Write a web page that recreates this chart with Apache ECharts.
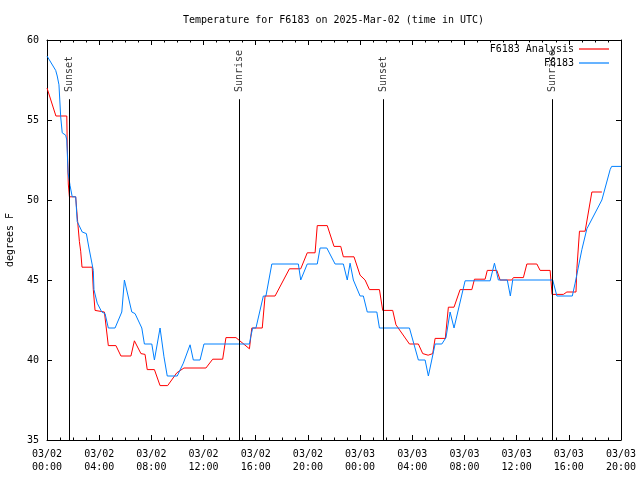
<!DOCTYPE html>
<html>
<head>
<meta charset="utf-8">
<script src="https://cdn.jsdelivr.net/npm/echarts@6/dist/echarts.min.js"></script>
<style>html,body{margin:0;padding:0;background:#fff;}#c{width:640px;height:480px;}</style>
</head>
<body>
<div id="c"></div>
<script>
const titleText = 'Temperature for F6183 on 2025-Mar-02 (time in UTC)';
const xTickLabels = ['03/02\n00:00','03/02\n04:00','03/02\n08:00','03/02\n12:00','03/02\n16:00','03/02\n20:00',
  '03/03\n00:00','03/03\n04:00','03/03\n08:00','03/03\n12:00','03/03\n16:00','03/03\n20:00'];

const analysisTimes = ['03/02 00:00','03/02 00:41','03/02 01:31','03/02 01:33','03/02 01:38','03/02 01:43','03/02 02:12','03/02 02:17','03/02 02:21','03/02 02:29','03/02 02:35','03/02 02:41','03/02 03:28','03/02 03:33','03/02 03:41','03/02 04:24','03/02 04:42','03/02 05:17','03/02 05:40','03/02 06:26','03/02 06:42','03/02 07:12','03/02 07:31','03/02 07:41','03/02 08:14','03/02 08:40','03/02 09:15','03/02 09:57','03/02 10:30','03/02 12:11','03/02 12:42','03/02 13:28','03/02 13:43','03/02 14:29','03/02 15:31','03/02 15:42','03/02 16:30','03/02 16:43','03/02 17:29','03/02 18:35','03/02 19:27','03/02 19:57','03/02 20:33','03/02 20:43','03/02 21:29','03/02 22:00','03/02 22:31','03/02 22:43','03/02 23:32','03/03 00:00','03/03 00:23','03/03 00:43','03/03 01:29','03/03 01:44','03/03 02:30','03/03 02:45','03/03 03:47','03/03 04:28','03/03 04:48','03/03 05:13','03/03 05:34','03/03 05:45','03/03 06:32','03/03 06:46','03/03 07:12','03/03 07:40','03/03 08:34','03/03 08:46','03/03 09:35','03/03 09:45','03/03 10:29','03/03 10:44','03/03 11:38','03/03 11:45','03/03 12:31','03/03 12:47','03/03 13:33','03/03 13:48','03/03 14:34','03/03 14:43','03/03 15:35','03/03 15:51','03/03 16:33','03/03 16:37','03/03 16:49','03/03 17:15','03/03 17:46','03/03 18:32'];
const analysisTemps = [57.0,55.25,55.25,53.5,51.0,50.2,50.2,49.3,48.65,47.4,46.8,45.8,45.8,44.4,43.1,43.0,40.9,40.9,40.25,40.25,41.2,40.4,40.35,39.4,39.4,38.4,38.4,39.2,39.5,39.5,40.05,40.05,41.4,41.4,40.7,42.0,42.0,44.0,44.0,45.7,45.7,46.7,46.7,48.4,48.4,47.1,47.1,46.45,46.45,45.3,45.0,44.4,44.4,43.1,43.1,42.2,41.0,41.0,40.4,40.3,40.4,41.35,41.35,43.3,43.3,44.4,44.4,45.05,45.05,45.6,45.6,45.0,45.0,45.15,45.15,46.0,46.0,45.6,45.6,44.1,44.1,44.25,44.25,45.7,48.05,48.05,50.5,50.5];

const obsTimes = ['03/02 00:00','03/02 00:40','03/02 00:47','03/02 00:55','03/02 01:03','03/02 01:10','03/02 01:26','03/02 01:31','03/02 01:37','03/02 01:46','03/02 01:56','03/02 02:12','03/02 02:19','03/02 02:42','03/02 03:01','03/02 03:13','03/02 03:33','03/02 03:36','03/02 03:51','03/02 04:12','03/02 04:27','03/02 04:42','03/02 05:13','03/02 05:44','03/02 05:56','03/02 06:30','03/02 06:45','03/02 07:16','03/02 07:28','03/02 08:02','03/02 08:14','03/02 08:40','03/02 08:58','03/02 09:13','03/02 09:59','03/02 10:27','03/02 10:58','03/02 11:13','03/02 11:44','03/02 12:02','03/02 15:31','03/02 15:37','03/02 15:46','03/02 16:01','03/02 16:35','03/02 16:47','03/02 17:14','03/02 19:16','03/02 19:27','03/02 19:57','03/02 20:43','03/02 20:56','03/02 21:27','03/02 22:05','03/02 22:43','03/02 23:01','03/02 23:14','03/02 23:29','03/03 00:00','03/03 00:15','03/03 00:33','03/03 01:17','03/03 01:29','03/03 03:47','03/03 04:28','03/03 04:59','03/03 05:14','03/03 05:45','03/03 06:16','03/03 06:35','03/03 06:54','03/03 07:12','03/03 08:03','03/03 09:58','03/03 10:18','03/03 10:36','03/03 11:17','03/03 11:31','03/03 11:42','03/03 14:46','03/03 15:05','03/03 16:16','03/03 16:29','03/03 17:00','03/03 17:23','03/03 18:32','03/03 19:10','03/03 19:17','03/03 20:00'];
const obsTemps = [59.0,58.1,57.75,57.2,55.2,54.2,54.05,53.75,51.7,50.9,50.2,50.2,48.65,48.0,47.9,47.0,45.6,44.4,43.55,43.0,42.9,42.0,42.0,43.0,45.0,43.0,42.9,42.0,41.0,41.0,40.0,42.0,40.2,39.0,39.0,39.8,40.95,40.0,40.0,41.0,41.0,41.45,42.0,42.0,44.0,44.0,46.0,46.0,45.0,46.0,46.0,47.0,47.0,46.0,46.0,45.0,46.05,45.0,44.0,44.0,43.0,43.0,42.0,42.0,40.0,40.0,39.0,41.0,41.0,41.4,43.0,42.0,44.95,44.95,46.05,45.0,45.0,44.0,45.0,45.0,44.0,44.0,44.8,46.9,48.2,50.0,51.9,52.1,52.1];

const sunEventTimes = ['03/02 01:43','03/02 14:44','03/03 01:47','03/03 14:44'];
const sunEventNames = ['Sunset','Sunrise','Sunset','Sunrise'];

function toHours(s) {
  const [md, hm] = s.split(' ');
  const day = parseInt(md.split('/')[1], 10);
  const [hh, mm] = hm.split(':').map(Number);
  return (day - 2) * 24 + hh + mm / 60;
}
const pair = (ts, vs) => ts.map((t, i) => [toHours(t), vs[i]]);

const FONT = 'DejaVu Sans Mono';
const LINE_TOP = 56.3, LABEL_ANCHOR = 56.75;

const chart = echarts.init(document.getElementById('c'), null, {renderer: 'canvas'});
const axisCommon = {
  axisLine: {show: true, onZero: false, lineStyle: {color: '#000', width: 1}},
  axisTick: {show: true, inside: true, length: 5, lineStyle: {color: '#000'}},
  splitLine: {show: false}
};
const legendCommon = {padding: 0, align: 'right', itemWidth: 30, itemHeight: 1.2, icon: 'rect', itemGap: 0,
  textStyle: {fontFamily: FONT, fontSize: 10, color: '#000'}};
chart.setOption({
  animation: false,
  backgroundColor: '#fff',
  textStyle: {fontFamily: FONT},
  title: {text: titleText, left: 183, top: 15, padding: 0,
    textStyle: {fontFamily: FONT, fontSize: 10, fontWeight: 'normal', color: '#000'}},
  legend: [
    Object.assign({}, legendCommon, {data: ['F6183 Analysis'], right: 31, top: 44}),
    Object.assign({}, legendCommon, {data: ['F6183'], right: 31, top: 58})
  ],
  grid: {left: 47, right: 19, top: 40, bottom: 40, containLabel: false, outerBoundsMode: 'none'},
  xAxis: [
    Object.assign({}, axisCommon, {type: 'value', position: 'bottom', min: 0, max: 44, interval: 4,
      minorTick: {show: true, splitNumber: 4, length: 2.5, lineStyle: {color: '#000'}},
      axisLabel: {show: true, margin: 8, fontFamily: FONT, fontSize: 10, color: '#000', lineHeight: 13,
        showMinLabel: true, showMaxLabel: true, hideOverlap: false,
        formatter: v => xTickLabels[Math.round(v / 4)] || ''}}),
    Object.assign({}, axisCommon, {type: 'value', position: 'top', min: 0, max: 44, interval: 4,
      minorTick: {show: true, splitNumber: 4, length: 2.5, lineStyle: {color: '#000'}},
      axisLabel: {show: false}})
  ],
  yAxis: [
    Object.assign({}, axisCommon, {type: 'value', position: 'left', min: 35, max: 60, interval: 5,
      name: 'degrees F', nameLocation: 'middle', nameGap: 32, nameRotate: 90,
      nameTextStyle: {fontFamily: FONT, fontSize: 10, color: '#000'},
      axisLabel: {show: true, margin: 8, fontFamily: FONT, fontSize: 10, color: '#000'}}),
    Object.assign({}, axisCommon, {type: 'value', position: 'right', min: 35, max: 60, interval: 5,
      axisLabel: {show: false}})
  ],
  series: [
    {name: 'sun', type: 'scatter', symbolSize: 1, itemStyle: {color: 'rgba(0,0,0,0)'}, silent: true, z: 1,
      data: sunEventTimes.map((t, i) => ({value: [toHours(t), LABEL_ANCHOR], name: sunEventNames[i]})),
      label: {show: true, position: 'inside', rotate: 90, align: 'left', verticalAlign: 'middle',
        formatter: p => p.name, fontFamily: FONT, fontSize: 10, color: '#000', offset: [1, 0]},
      labelLayout: {hideOverlap: false},
      markLine: {silent: true, symbol: ['none', 'none'], animation: false,
        label: {show: false}, lineStyle: {color: '#000', width: 1, type: 'solid'},
        emphasis: {disabled: true},
        data: sunEventTimes.map(t => [{coord: [toHours(t), 35]}, {coord: [toHours(t), LINE_TOP]}])}},
    {name: 'F6183 Analysis', type: 'line', data: pair(analysisTimes, analysisTemps), showSymbol: false, symbol: 'none',
      lineStyle: {color: '#ff0000', width: 1}, itemStyle: {color: '#ff0000'}, z: 3},
    {name: 'F6183', type: 'line', data: pair(obsTimes, obsTemps), showSymbol: false, symbol: 'none',
      lineStyle: {color: '#0080ff', width: 1}, itemStyle: {color: '#0080ff'}, z: 4}
  ]
});
</script>
</body>
</html>
